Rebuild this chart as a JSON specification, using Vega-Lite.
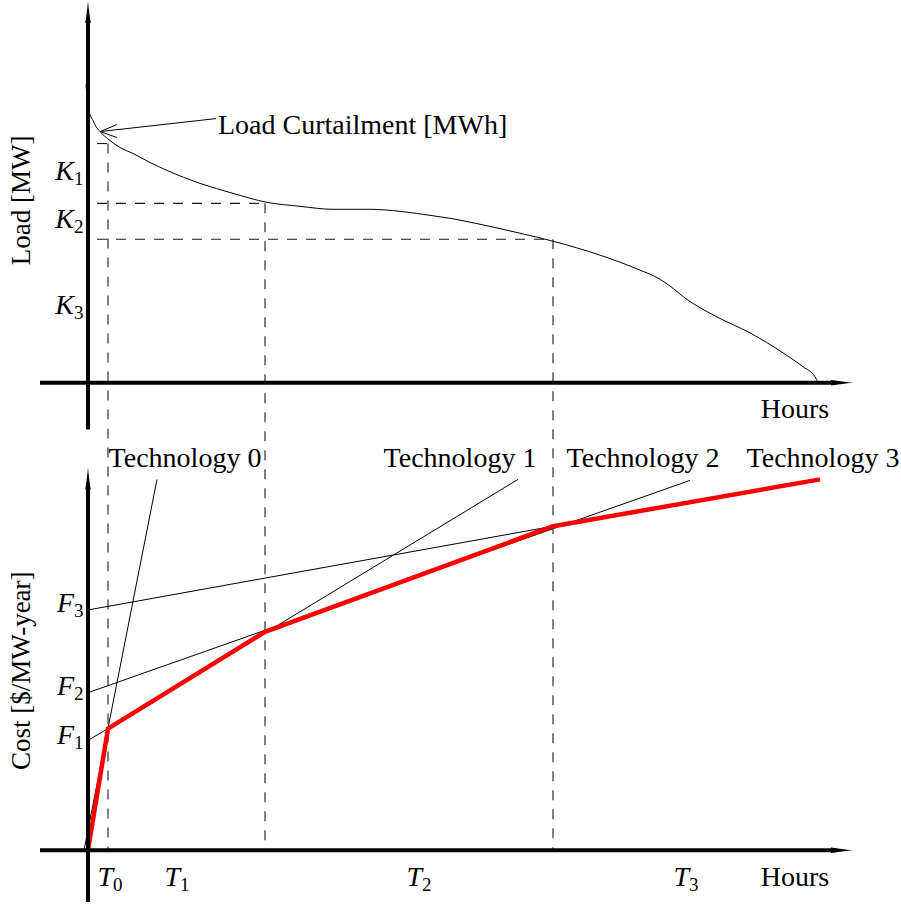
{
  "$schema": "https://vega.github.io/schema/vega-lite/v6.json",
  "autosize": {"type": "fit", "contains": "padding"},
  "width": 901,
  "height": 904,
  "padding": 0,
  "background": "white",
  "config": {"view": {"stroke": null}},
  "datasets": {
    "axes": [
      {"x1": 0, "y1": 422, "x2": 0, "y2": 835},
      {"x1": -48, "y1": 469, "x2": 748, "y2": 469},
      {"x1": 0, "y1": -52, "x2": 0, "y2": 365},
      {"x1": -48, "y1": 0, "x2": 748, "y2": 0}
    ],
    "arrowUp": [{"x": 0, "y": 841}, {"x": 0, "y": 373}],
    "arrowRight": [{"x": 754, "y": 469}, {"x": 754, "y": 0}],
    "dashed": [
      {"x1": 20, "y1": 709, "x2": 20, "y2": 0},
      {"x1": 9, "y1": 709, "x2": 20, "y2": 709},
      {"x1": 9, "y1": 649, "x2": 177, "y2": 649},
      {"x1": 177, "y1": 649, "x2": 177, "y2": 0},
      {"x1": 9, "y1": 613, "x2": 465, "y2": 613},
      {"x1": 465, "y1": 613, "x2": 465, "y2": 0}
    ],
    "thin": [
      {"x1": -4, "y1": 0, "x2": 69, "y2": 372},
      {"x1": 0, "y1": 110, "x2": 430, "y2": 372},
      {"x1": 0, "y1": 158, "x2": 602, "y2": 371},
      {"x1": 0, "y1": 241, "x2": 465, "y2": 325},
      {"x1": 128, "y1": 734, "x2": 12, "y2": 721},
      {"x1": 12, "y1": 721, "x2": 29, "y2": 728},
      {"x1": 12, "y1": 721, "x2": 29, "y2": 715}
    ],
    "load": [
      {"i": 0, "x": -2, "y": 768}, {"i": 1, "x": -1, "y": 757}, {"i": 2, "x": 0, "y": 746},
      {"i": 3, "x": 2, "y": 738}, {"i": 4, "x": 5, "y": 732}, {"i": 5, "x": 8, "y": 726},
      {"i": 6, "x": 12, "y": 721}, {"i": 7, "x": 22, "y": 712}, {"i": 8, "x": 32, "y": 705},
      {"i": 9, "x": 45, "y": 699}, {"i": 10, "x": 62, "y": 690}, {"i": 11, "x": 79, "y": 682},
      {"i": 12, "x": 112, "y": 669}, {"i": 13, "x": 145, "y": 659}, {"i": 14, "x": 179, "y": 650},
      {"i": 15, "x": 212, "y": 646}, {"i": 16, "x": 245, "y": 643}, {"i": 17, "x": 282, "y": 643},
      {"i": 18, "x": 312, "y": 641}, {"i": 19, "x": 345, "y": 636.5}, {"i": 20, "x": 362, "y": 634},
      {"i": 21, "x": 392, "y": 628}, {"i": 22, "x": 432, "y": 619}, {"i": 23, "x": 465, "y": 611},
      {"i": 24, "x": 512, "y": 597}, {"i": 25, "x": 552, "y": 582}, {"i": 26, "x": 570, "y": 574},
      {"i": 27, "x": 582, "y": 566}, {"i": 28, "x": 597, "y": 554}, {"i": 29, "x": 629, "y": 535},
      {"i": 30, "x": 662, "y": 519}, {"i": 31, "x": 695, "y": 499}, {"i": 32, "x": 715, "y": 485},
      {"i": 33, "x": 727, "y": 475}, {"i": 34, "x": 730, "y": 469}
    ],
    "cost": [
      {"i": 0, "x": 0, "y": 0}, {"i": 1, "x": 20, "y": 122}, {"i": 2, "x": 177, "y": 219},
      {"i": 3, "x": 465, "y": 325}, {"i": 4, "x": 732, "y": 372}
    ],
    "leftLabels": [
      {"x": 130, "y": 727, "t": "Load Curtailment [MWh]"}
    ],
    "labels": [
      {"x": 707, "y": 442, "t": "Hours"},
      {"x": 707, "y": -28, "t": "Hours"},
      {"x": 97, "y": 392, "t": "Technology 0"},
      {"x": 372, "y": 392, "t": "Technology 1"},
      {"x": 555, "y": 392, "t": "Technology 2"},
      {"x": 735, "y": 392, "t": "Technology 3"}
    ],
    "vlabels": [
      {"x": -66, "y": 652, "t": "Load [MW]"},
      {"x": -66, "y": 180, "t": "Cost [$/MW-year]"}
    ],
    "symbols": [
      {"x": -14, "y": 680, "l": "K", "s": "1"},
      {"x": -14, "y": 632, "l": "K", "s": "2"},
      {"x": -14, "y": 546, "l": "K", "s": "3"},
      {"x": -14, "y": 115, "l": "F", "s": "1"},
      {"x": -14, "y": 164, "l": "F", "s": "2"},
      {"x": -14, "y": 247, "l": "F", "s": "3"},
      {"x": 25, "y": -28, "l": "T", "s": "0"},
      {"x": 92, "y": -28, "l": "T", "s": "1"},
      {"x": 334, "y": -28, "l": "T", "s": "2"},
      {"x": 601, "y": -28, "l": "T", "s": "3"}
    ]
  },
  "encoding": {
    "x": {"type": "quantitative", "scale": {"domain": [-88, 813], "nice": false, "zero": false}, "axis": null},
    "y": {"type": "quantitative", "scale": {"domain": [-52, 852], "nice": false, "zero": false}, "axis": null}
  },
  "layer": [
    {
      "data": {"name": "dashed"},
      "mark": {"type": "rule", "strokeDash": [10, 9], "strokeWidth": 1.1, "color": "#1a1a1a"},
      "encoding": {"x": {"field": "x1"}, "y": {"field": "y1"}, "x2": {"field": "x2"}, "y2": {"field": "y2"}}
    },
    {
      "data": {"name": "thin"},
      "mark": {"type": "rule", "strokeWidth": 1, "color": "black"},
      "encoding": {"x": {"field": "x1"}, "y": {"field": "y1"}, "x2": {"field": "x2"}, "y2": {"field": "y2"}}
    },
    {
      "data": {"name": "load"},
      "mark": {"type": "line", "strokeWidth": 1, "color": "black", "interpolate": "monotone"},
      "encoding": {"x": {"field": "x"}, "y": {"field": "y"}, "order": {"field": "i"}}
    },
    {
      "data": {"name": "cost"},
      "mark": {"type": "line", "strokeWidth": 4.5, "color": "#ff0000", "strokeJoin": "miter"},
      "encoding": {"x": {"field": "x"}, "y": {"field": "y"}, "order": {"field": "i"}}
    },
    {
      "data": {"name": "axes"},
      "mark": {"type": "rule", "strokeWidth": 4, "color": "black"},
      "encoding": {"x": {"field": "x1"}, "y": {"field": "y1"}, "x2": {"field": "x2"}, "y2": {"field": "y2"}}
    },
    {
      "data": {"name": "arrowUp"},
      "mark": {"type": "point", "filled": true, "color": "black", "opacity": 1, "size": 484,
               "shape": "M0,-1C0.05,-0.4 0.15,0.4 0.25,1L-0.25,1C-0.15,0.4 -0.05,-0.4 0,-1Z"},
      "encoding": {"x": {"field": "x"}, "y": {"field": "y"}}
    },
    {
      "data": {"name": "arrowRight"},
      "mark": {"type": "point", "filled": true, "color": "black", "opacity": 1, "size": 484,
               "shape": "M1,0C0.4,0.05 -0.4,0.15 -1,0.25L-1,-0.25C-0.4,-0.15 0.4,-0.05 1,0Z"},
      "encoding": {"x": {"field": "x"}, "y": {"field": "y"}}
    },
    {
      "data": {"name": "leftLabels"},
      "mark": {"type": "text", "font": "Liberation Serif", "fontSize": 28, "baseline": "middle", "align": "left", "color": "black"},
      "encoding": {"x": {"field": "x"}, "y": {"field": "y"}, "text": {"field": "t"}}
    },
    {
      "data": {"name": "labels"},
      "mark": {"type": "text", "font": "Liberation Serif", "fontSize": 28, "baseline": "middle", "align": "center", "color": "black"},
      "encoding": {"x": {"field": "x"}, "y": {"field": "y"}, "text": {"field": "t"}}
    },
    {
      "data": {"name": "vlabels"},
      "mark": {"type": "text", "font": "Liberation Serif", "fontSize": 27, "baseline": "middle", "align": "center", "angle": 270, "color": "black"},
      "encoding": {"x": {"field": "x"}, "y": {"field": "y"}, "text": {"field": "t"}}
    },
    {
      "data": {"name": "symbols"},
      "mark": {"type": "text", "font": "Liberation Serif", "fontSize": 28, "fontStyle": "italic", "baseline": "middle", "align": "right", "color": "black"},
      "encoding": {"x": {"field": "x"}, "y": {"field": "y"}, "text": {"field": "l"}}
    },
    {
      "data": {"name": "symbols"},
      "mark": {"type": "text", "font": "Liberation Serif", "fontSize": 19, "baseline": "middle", "align": "left", "dx": 0, "dy": 7, "color": "black"},
      "encoding": {"x": {"field": "x"}, "y": {"field": "y"}, "text": {"field": "s"}}
    }
  ]
}
